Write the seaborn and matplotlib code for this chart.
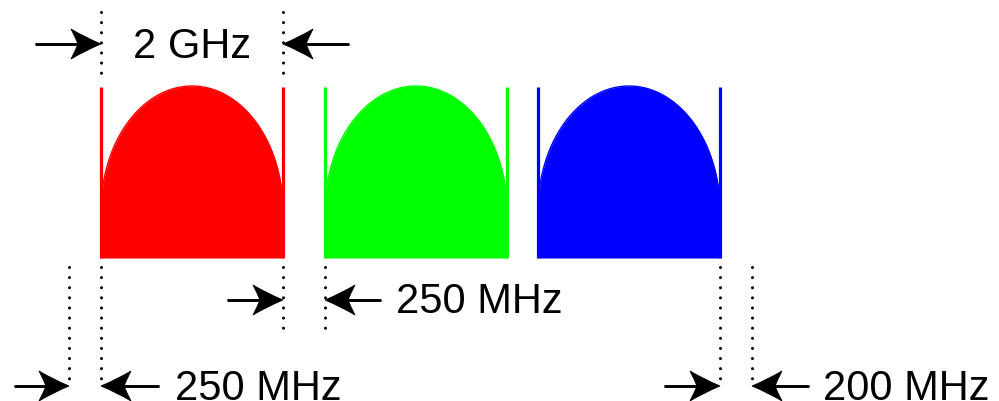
import numpy as np
import pandas as pd
import matplotlib.pyplot as plt
import seaborn as sns
from matplotlib.path import Path
from matplotlib.patches import PathPatch

# the sketch is drawn in canvas units (999 x 402), y grows downwards
band_colors = ['#ff0000', '#00ff00', '#0000ff']
band_start = [101, 325, 538]
band_stop = [283, 507, 720]
band_floor = 259
band_shoulder = 212
band_peak = 87
edge_top = 88

# dimension markers: the two edges measured, arrow row, text
dim_left = [101, 283, 69, 720]
dim_right = [283, 325, 101, 752]
dim_labels = ['2 GHz', '250 MHz', '250 MHz', '200 MHz']


def arrow(ax, tail, tip, y):
    d = np.sign(tip - tail)
    L, w, notch = 30, 15, 23
    ax.plot([tail, tip - d * notch], [y, y], color='black', lw=2.1,
            solid_capstyle='round')
    verts = [(tip, y),
             (tip - d * 0.55 * L, y - 0.46 * w), (tip - d * L, y - w),
             (tip - d * (notch + 2), y - 0.35 * w), (tip - d * notch, y),
             (tip - d * (notch + 2), y + 0.35 * w), (tip - d * L, y + w),
             (tip - d * 0.55 * L, y + 0.46 * w), (tip, y),
             (tip, y)]
    codes = [Path.MOVETO, Path.CURVE3, Path.CURVE3, Path.CURVE3, Path.CURVE3,
             Path.CURVE3, Path.CURVE3, Path.CURVE3, Path.CURVE3,
             Path.CLOSEPOLY]
    ax.add_patch(PathPatch(Path(verts, codes), facecolor='black',
                           edgecolor='black', lw=0.6))


def dotted(ax, x, y0, y1):
    ax.plot([x, x], [y0, y1], color='black', lw=2.2,
            linestyle=(0, (0.01, 3.3)), dash_capstyle='round')


sns.set_style('white')
plt.rcParams['font.family'] = ['Liberation Sans', 'DejaVu Sans']

fig = plt.figure(figsize=(9.99, 4.02), dpi=100)
ax = fig.add_axes([0, 0, 1, 1])

for lo, hi, c in zip(band_start, band_stop, band_colors):
    x = np.linspace(lo, hi, 400)
    t = (x - (lo + hi) / 2) / ((hi - lo) / 2)
    y = band_shoulder - (band_shoulder - band_peak) * np.sqrt(np.clip(1 - t ** 2, 0, 1))
    df = pd.DataFrame({'x': x, 'y': y})
    sns.lineplot(data=df, x='x', y='y', color=c, lw=1, ax=ax, estimator=None)
    ax.fill_between(x, y, band_floor, color=c, lw=0)
    ax.fill_between([lo - 1, hi + 1], band_shoulder, band_floor, color=c, lw=0)
    ax.vlines([lo, hi], edge_top, band_floor, color=c, lw=2.3)

# dotted guide lines
dotted(ax, 101, 13, 76)
dotted(ax, 283, 13, 76)
dotted(ax, 69, 268, 383)
dotted(ax, 101, 268, 383)
dotted(ax, 283, 268, 331)
dotted(ax, 325, 268, 331)
dotted(ax, 720, 268, 383)
dotted(ax, 752, 268, 383)

txt = dict(fontsize=30, color='black', va='baseline')

# 2 GHz band width
arrow(ax, 36, dim_left[0], 45)
arrow(ax, 348, dim_right[0], 45)
ax.text((dim_left[0] + dim_right[0]) / 2, 58, dim_labels[0], ha='center', **txt)

# guard band between channels
arrow(ax, 228, dim_left[1], 301)
arrow(ax, 380, dim_right[1], 301)
ax.text(396, 313, dim_labels[1], ha='left', **txt)

# lower edge margin
arrow(ax, 15, dim_left[2], 387)
arrow(ax, 158, dim_right[2], 387)
ax.text(175, 400, dim_labels[2], ha='left', **txt)

# upper edge margin
arrow(ax, 665, dim_left[3], 387)
arrow(ax, 808, dim_right[3], 387)
ax.text(823, 400, dim_labels[3], ha='left', **txt)

ax.set_xlim(0, 999)
ax.set_ylim(402, 0)
ax.axis('off')

fig.savefig('out.png', dpi=100)
